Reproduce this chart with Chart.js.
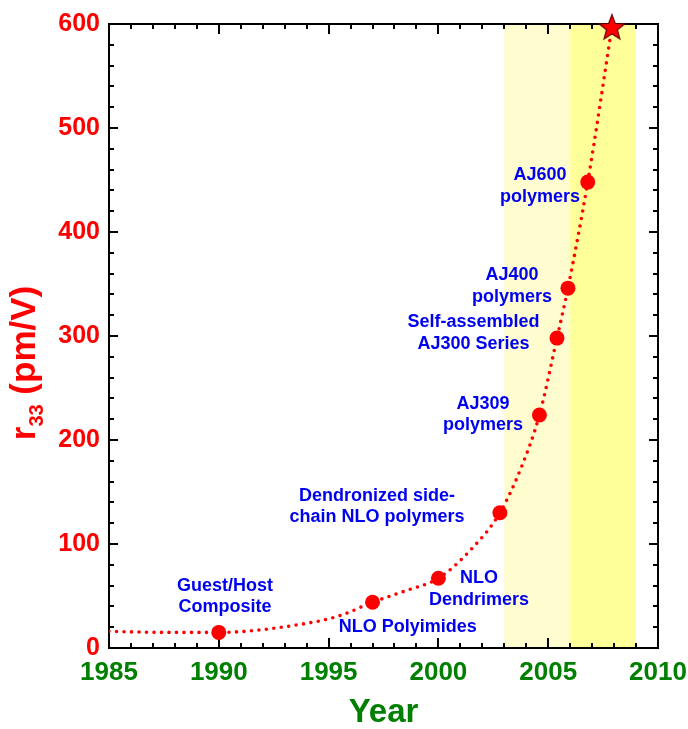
<!DOCTYPE html>
<html><head><meta charset="utf-8">
<script src="https://cdn.jsdelivr.net/npm/chart.js@4/dist/chart.umd.min.js"></script>
<style>html,body{margin:0;padding:0;background:#fff}#wrap{width:688px;height:729px;position:relative}</style>
</head><body><div id="wrap"><canvas id="c" width="688" height="729"></canvas></div>
<script>
// ---- data ----
const pointYears = [1990, 1997, 2000, 2002.8, 2004.6, 2005.4, 2005.9, 2006.8];
const pointR33   = [15, 44, 67, 130, 224, 298, 346, 448];
const starYears  = [2007.9];
const starR33    = [597];
const curveYears = [1985, 1987.5, 1990, 1993.5, 1995.5, 1997, 1998.5, 2000, 2001.5, 2002.8, 2003.8, 2004.6, 2005.4, 2005.9, 2006.8, 2007.9];
const curveR33   = [16, 15, 15, 22, 31, 44, 55, 67, 95, 130, 175, 224, 298, 346, 448, 597];
const xTickValues = [1985, 1990, 1995, 2000, 2005, 2010];
const xTickLabels = ['1985', '1990', '1995', '2000', '2005', '2010'];
const yTickValues = [0, 100, 200, 300, 400, 500, 600];
const yTickLabels = ['0', '100', '200', '300', '400', '500', '600'];
const bandEdges   = [2003, 2006, 2009];
const annotationTexts = [
  ['Guest/Host', 'Composite'],
  ['NLO Polyimides'],
  ['NLO', 'Dendrimers'],
  ['Dendronized side-', 'chain NLO polymers'],
  ['AJ309', 'polymers'],
  ['Self-assembled', 'AJ300 Series'],
  ['AJ400', 'polymers'],
  ['AJ600', 'polymers']
];
// ---- layout (anchor of each text block, in data units) ----
const annotationAnchors = [
  [1990.28, 49.5], [1998.6, 20], [2001.85, 56.6], [1997.2, 136],
  [2002.03, 224.5], [2001.6, 303], [2003.35, 348], [2004.63, 444.4]
];

const RED = '#ff0000', GREEN = '#008000', BLUE = '#0000f0';
const FONT = '"Liberation Sans", Arial, sans-serif';

// filled star marker
function makeStar(size) {
  const c = document.createElement('canvas');
  c.width = size; c.height = size;
  const g = c.getContext('2d');
  const cx = size / 2, cy = size / 2 + 1, R = size / 2 - 1.5, r = R * 0.42;
  g.beginPath();
  for (let i = 0; i < 10; i++) {
    const rad = i % 2 === 0 ? R : r;
    const a = -Math.PI / 2 + i * Math.PI / 5;
    const px = cx + rad * Math.cos(a), py = cy + rad * Math.sin(a);
    i === 0 ? g.moveTo(px, py) : g.lineTo(px, py);
  }
  g.closePath();
  g.fillStyle = RED; g.fill();
  g.lineWidth = 1.2; g.strokeStyle = '#6b0000'; g.stroke();
  return c;
}

const backdrop = {
  id: 'backdrop',
  beforeDatasetsDraw(chart) {
    const {ctx, chartArea: a, scales: {x, y}} = chart;
    ctx.save();
    ctx.fillStyle = '#fffdcf';
    ctx.fillRect(x.getPixelForValue(bandEdges[0]), a.top, x.getPixelForValue(bandEdges[1]) - x.getPixelForValue(bandEdges[0]), a.bottom - a.top);
    ctx.fillStyle = '#ffff99';
    ctx.fillRect(x.getPixelForValue(bandEdges[1]), a.top, x.getPixelForValue(bandEdges[2]) - x.getPixelForValue(bandEdges[1]), a.bottom - a.top);
    // frame
    ctx.strokeStyle = '#000'; ctx.lineWidth = 2;
    ctx.strokeRect(a.left, a.top, a.right - a.left, a.bottom - a.top);
    // inward ticks
    ctx.beginPath();
    for (let yr = x.min; yr <= x.max; yr += 1) {
      const px = Math.round(x.getPixelForValue(yr));
      const len = yr % 5 === 0 ? 10 : 5;
      ctx.moveTo(px, a.bottom); ctx.lineTo(px, a.bottom - len);
      ctx.moveTo(px, a.top); ctx.lineTo(px, a.top + len);
    }
    for (let v = y.min; v <= y.max; v += 20) {
      const py = Math.round(y.getPixelForValue(v));
      const len = v % 100 === 0 ? 9 : 5;
      ctx.moveTo(a.left, py); ctx.lineTo(a.left + len, py);
      ctx.moveTo(a.right, py); ctx.lineTo(a.right - len, py);
    }
    ctx.stroke();
    ctx.restore();
  },
  afterDatasetsDraw(chart) {
    const {ctx, scales: {x, y}} = chart;
    ctx.save();
    ctx.fillStyle = BLUE;
    ctx.font = 'bold 18px ' + FONT;
    ctx.textAlign = 'center'; ctx.textBaseline = 'middle';
    const lh = 21.5;
    annotationTexts.forEach((lines, i) => {
      const cx = x.getPixelForValue(annotationAnchors[i][0]);
      const cy = y.getPixelForValue(annotationAnchors[i][1]);
      const start = cy - (lines.length - 1) * lh / 2;
      lines.forEach((t, j) => ctx.fillText(t, cx, start + j * lh));
    });
    ctx.restore();
  },
  afterDraw(chart) {
    // y-axis title with subscript
    const {ctx} = chart;
    ctx.save();
    const big = 'bold 35px ' + FONT, small = 'bold 20px ' + FONT;
    ctx.font = big; const wr = ctx.measureText('r').width; const wRest = ctx.measureText(' (pm/V)').width;
    ctx.font = small; const ws = ctx.measureText('33').width;
    const total = wr + ws + wRest;
    const cy = 363;
    ctx.translate(35, cy + total / 2);
    ctx.rotate(-Math.PI / 2);
    ctx.fillStyle = RED; ctx.textAlign = 'left'; ctx.textBaseline = 'alphabetic';
    ctx.font = big; ctx.fillText('r', 0, 0);
    ctx.font = small; ctx.fillText('33', wr, 8);
    ctx.font = big; ctx.fillText(' (pm/V)', wr + ws, 0);
    ctx.restore();
  }
};

const star = makeStar(30);

new Chart(document.getElementById('c'), {
  type: 'scatter',
  data: {
    datasets: [
      {
        type: 'line',
        data: curveYears.map((v, i) => ({x: v, y: curveR33[i]})),
        borderColor: RED, borderWidth: 3.6, borderDash: [0, 7.5], borderCapStyle: 'round',
        pointRadius: 0, cubicInterpolationMode: 'monotone', fill: false, order: 3
      },
      {
        data: pointYears.map((v, i) => ({x: v, y: pointR33[i]})),
        backgroundColor: RED, borderColor: RED, borderWidth: 0, pointRadius: 7.5, order: 2
      },
      {
        data: starYears.map((v, i) => ({x: v, y: starR33[i]})),
        pointStyle: star, pointRadius: 15, clip: false, order: 1
      }
    ]
  },
  options: {
    responsive: false, animation: false, devicePixelRatio: 1,
    layout: {padding: {top: 24, right: 30, left: 0, bottom: 0}},
    plugins: {legend: {display: false}, tooltip: {enabled: false}},
    scales: {
      x: {
        type: 'linear', min: 1985, max: 2010,
        grid: {display: false, drawTicks: false}, border: {display: false},
        afterBuildTicks: s => { s.ticks = xTickValues.map(v => ({value: v})); },
        afterFit: s => { s.height = 81; s.paddingLeft = 0; s.paddingRight = 0; },
        ticks: {
          padding: 9, color: GREEN, font: {family: FONT, size: 26, weight: 'bold'},
          maxRotation: 0, autoSkip: false,
          callback: v => xTickLabels[xTickValues.indexOf(v)]
        },
        title: {display: true, text: 'Year', color: GREEN, padding: 0,
          font: {family: FONT, size: 33, weight: 'bold', lineHeight: 1}}
      },
      y: {
        type: 'linear', min: 0, max: 600,
        grid: {display: false, drawTicks: false}, border: {display: false},
        afterBuildTicks: s => { s.ticks = yTickValues.map(v => ({value: v})); },
        afterFit: s => { s.width = 109; s.paddingTop = 0; s.paddingBottom = 0; },
        ticks: {
          padding: 9, color: RED, font: {family: FONT, size: 25, weight: 'bold'},
          callback: v => yTickLabels[yTickValues.indexOf(v)]
        }
      }
    }
  },
  plugins: [backdrop]
});
</script></body></html>
